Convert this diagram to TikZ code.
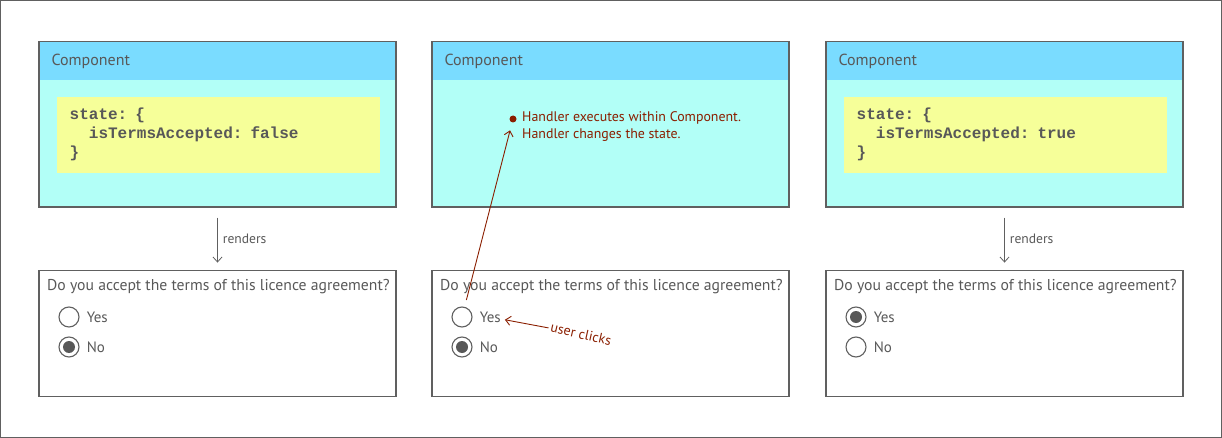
\documentclass[tikz,border=0pt]{standalone}
\usepackage{fontspec}
\setmainfont{PT Sans}
\setmonofont{Liberation Mono}
\usetikzlibrary{positioning,arrows.meta}
\definecolor{hdrblue}{HTML}{7ADCFF}
\definecolor{bodycyan}{HTML}{B2FFF7}
\definecolor{codeyel}{HTML}{F6FF99}
\definecolor{txtgray}{HTML}{585858}
\definecolor{linegray}{HTML}{606060}
\definecolor{handred}{HTML}{8A1E00}

\begin{document}
\begin{tikzpicture}[
    x=1pt, y=-1pt,
    comp/.style={draw=linegray, line width=1.2pt, fill=bodycyan, minimum width=357pt, minimum height=165pt, inner sep=0pt},
    hdr/.style={fill=hdrblue, anchor=north, yshift=-0.6pt, minimum width=355.6pt, minimum height=38pt, text width=332pt, align=left, inner sep=0pt, text=txtgray, font=\fontsize{16}{18}\selectfont},
    code/.style={fill=codeyel, minimum width=323pt, minimum height=76pt, text width=297pt, align=left, inner sep=0pt, text=txtgray, font=\ttfamily\bfseries\fontsize{16}{19}\selectfont},
    form/.style={draw=linegray, line width=1.2pt, minimum width=357pt, minimum height=126pt, inner sep=0pt},
    quest/.style={anchor=west, inner sep=0pt, text=txtgray, font=\fontsize{15.7}{18}\selectfont},
    radio/.style={circle, draw=linegray, line width=1.1pt, minimum size=20pt, inner sep=0pt},
    chosen/.style={radio, path picture={\fill[txtgray] (path picture bounding box.center) circle (6pt);}},
    opt/.style={inner sep=0pt, text=txtgray, font=\fontsize{15}{17}\selectfont},
    arr/.style={-{Straight Barb[length=5pt, width=9pt]}, line width=0.8pt, draw=linegray, shorten <=10pt, shorten >=7pt},
    lbl/.style={inner sep=0pt, text=txtgray, font=\fontsize{13.6}{15}\selectfont},
    redarr/.style={-{Straight Barb[length=5pt, width=9pt]}, line width=0.9pt, draw=handred},
    redtxt/.style={inner sep=0pt, text=handred, font=\fontsize{13.9}{17}\selectfont}
]
\useasboundingbox (0,0) rectangle (1222,438);
\draw[linegray, line width=1pt] (0.5,0.5) rectangle (1221.5,437.5);

% component boxes
\node[comp] (c1) at (217.5,124.5) {};
\node[comp] (c2) at (610.5,124.5) {};
\node[comp] (c3) at (1004.5,124.5) {};
\node[hdr] (h1) at (c1.north) {Component};
\node[hdr] (h2) at (c2.north) {Component};
\node[hdr] (h3) at (c3.north) {Component};

\node[code, below right=16pt and 17pt of h1.south west] (s1) {state: \{\\\hspace*{19.2pt}isTermsAccepted: false\\\}};
\node[code, below right=16pt and 17pt of h3.south west] (s3) {state: \{\\\hspace*{19.2pt}isTermsAccepted: true\\\}};

\node[circle, fill=handred, minimum size=7pt, inner sep=0pt] (hdot) at (513,119) {};
\node[redtxt, anchor=north west, align=left] (htxt) at (522,111.5) {Handler executes within Component.\\Handler changes the state.};

% rendered forms
\node[form, below=62pt of c1] (f1) {};
\node[form, below=62pt of c2] (f2) {};
\node[form, below=62pt of c3] (f3) {};
\node[quest] (q1) at (47,287) {Do you accept the terms of this licence agreement?};
\node[quest] (q2) at (440,287) {Do you accept the terms of this licence agreement?};
\node[quest] (q3) at (834,287) {Do you accept the terms of this licence agreement?};

\node[radio] (r1y) at (69,317) {};
\node[chosen] (r1n) at (69,347) {};
\node[radio] (r2y) at (462,317) {};
\node[chosen] (r2n) at (462,347) {};
\node[chosen] (r3y) at (856,317) {};
\node[radio] (r3n) at (856,347) {};
\node[opt, right=7pt of r1y] (t1y) {Yes};
\node[opt, right=7pt of r1n] (t1n) {No};
\node[opt, right=7pt of r2y] (t2y) {Yes};
\node[opt, right=7pt of r2n] (t2n) {No};
\node[opt, right=7pt of r3y] (t3y) {Yes};
\node[opt, right=7pt of r3n] (t3n) {No};

\draw[arr] (c1) -- node[lbl, right=5pt] (rn1) {renders} (f1);
\draw[arr] (c3) -- node[lbl, right=5pt] (rn3) {renders} (f3);

\node[redtxt, rotate=-13] (uc) at (581,334) {user clicks};
\draw[redarr, shorten <=7pt, shorten >=8pt] (r2y) -- (hdot);
\draw[redarr, shorten <=2pt, shorten >=4pt] (uc) -- (t2y);
\end{tikzpicture}
\end{document}
